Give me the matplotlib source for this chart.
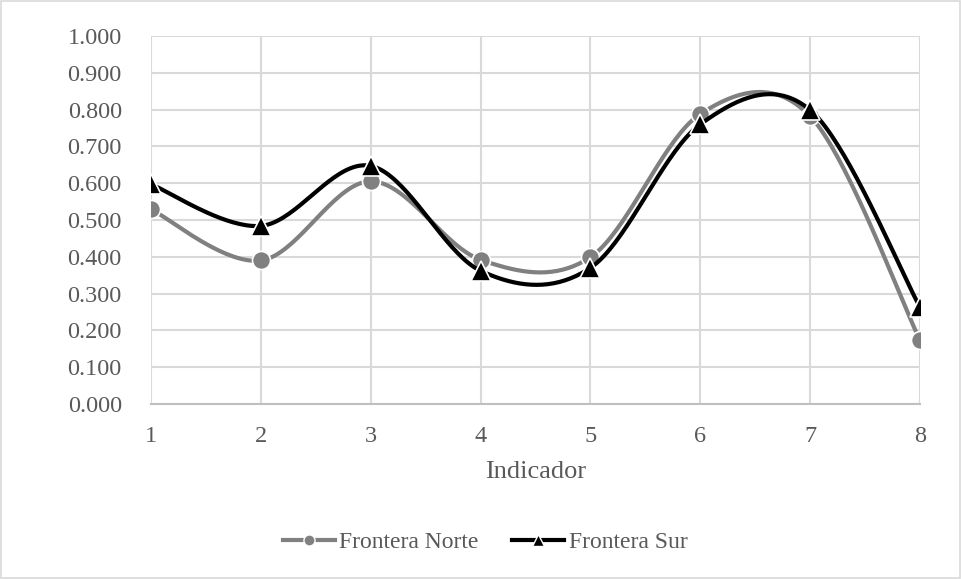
import numpy as np
import matplotlib
matplotlib.use("Agg")
import matplotlib.pyplot as plt
from matplotlib.patches import Rectangle

indicador = [1, 2, 3, 4, 5, 6, 7, 8]
frontera_norte = [0.529, 0.390, 0.605, 0.392, 0.399, 0.788, 0.782, 0.173]
frontera_sur = [0.597, 0.484, 0.647, 0.362, 0.370, 0.760, 0.799, 0.263]
y_ticks = [0.0, 0.1, 0.2, 0.3, 0.4, 0.5, 0.6, 0.7, 0.8, 0.9, 1.0]

plt.rcParams['font.family'] = ['Liberation Serif', 'DejaVu Serif']
texto = '#595959'
rejilla = '#d9d9d9'


def suavizar(x, y, n=40):
    # curva tipo Excel: Bezier cubica con puntos de control Catmull-Rom
    x = np.asarray(x, float)
    y = np.asarray(y, float)
    px = np.concatenate([[x[0]], x, [x[-1]]])
    py = np.concatenate([[y[0]], y, [y[-1]]])
    xs, ys = [], []
    t = np.linspace(0, 1, n)
    for i in range(1, len(px) - 2):
        p0 = np.array([px[i], py[i]])
        p3 = np.array([px[i + 1], py[i + 1]])
        c1 = p0 + (np.array([px[i + 1], py[i + 1]]) - np.array([px[i - 1], py[i - 1]])) / 6
        c2 = p3 - (np.array([px[i + 2], py[i + 2]]) - np.array([px[i], py[i]])) / 6
        b = ((1 - t) ** 3)[:, None] * p0 + (3 * (1 - t) ** 2 * t)[:, None] * c1 \
            + (3 * (1 - t) * t ** 2)[:, None] * c2 + (t ** 3)[:, None] * p3
        xs.extend(b[:, 0])
        ys.extend(b[:, 1])
    return xs, ys


fig = plt.figure(figsize=(9.61, 5.79), dpi=100)
fig.patches.append(Rectangle((0.001, 0.002), 0.998, 0.996, transform=fig.transFigure,
                             fill=False, edgecolor=rejilla, linewidth=1.2))
ax = fig.add_axes([151 / 961, 1 - 404 / 579, 769 / 961, 368 / 579])

xs, ys = suavizar(indicador, frontera_norte)
ax.plot(xs, ys, color='#808080', linewidth=3, zorder=3, solid_capstyle='round')
ax.plot(indicador, frontera_norte, linestyle='none', marker='o', markersize=13,
        markerfacecolor='#808080', markeredgecolor='white', markeredgewidth=1.2, zorder=4)

xs, ys = suavizar(indicador, frontera_sur)
ax.plot(xs, ys, color='black', linewidth=3, zorder=5, solid_capstyle='round')
ax.plot(indicador, frontera_sur, linestyle='none', marker='^', markersize=14,
        markerfacecolor='black', markeredgecolor='white', markeredgewidth=1.2, zorder=6)

ax.set_xlim(1, 8)
ax.set_ylim(0, 1.0)
ax.set_xticks(indicador)
ax.set_yticks(y_ticks)
ax.set_yticklabels([f'{v:.3f}' for v in y_ticks])
ax.grid(True, color=rejilla, linewidth=1.5)
ax.set_axisbelow(True)
for lado in ['top', 'right', 'left']:
    ax.spines[lado].set_visible(False)
ax.spines['bottom'].set_color('#bfbfbf')
ax.spines['bottom'].set_linewidth(1.5)
ax.tick_params(axis='both', length=0, labelsize=17.5, colors=texto)
ax.tick_params(axis='y', pad=21)
ax.tick_params(axis='x', pad=16)
ax.set_xlabel('Indicador', fontsize=19, color=texto, labelpad=10)

h1, = ax.plot([], [], color='#808080', linewidth=3, marker='o', markersize=8,
              markerfacecolor='#808080', markeredgecolor='white')
h2, = ax.plot([], [], color='black', linewidth=3, marker='^', markersize=8,
              markerfacecolor='black', markeredgecolor='white')
leg = fig.legend([h1, h2], ['Frontera Norte', 'Frontera Sur'], loc='center',
                 bbox_to_anchor=(485 / 961, 1 - 542 / 579), ncol=2, frameon=False,
                 fontsize=17, handlelength=2.2, handletextpad=0.2, columnspacing=1.4)
for t in leg.get_texts():
    t.set_color(texto)

fig.savefig('out.png', dpi=100)
